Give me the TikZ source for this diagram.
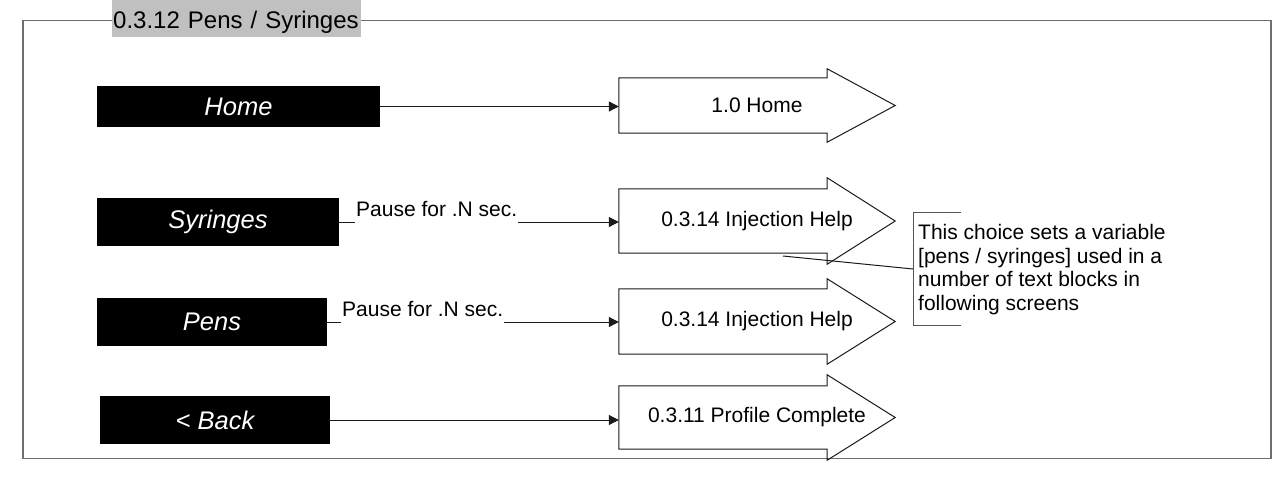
\documentclass[tikz,border=0pt]{standalone}
\usepackage{fontspec}
\setmainfont{Liberation Sans}
\usetikzlibrary{arrows.meta,calc}
\newcommand\fsz[1]{\fontsize{#1pt}{#1pt}\selectfont}
\definecolor{framegray}{HTML}{6E6E6E}
\definecolor{titlegray}{HTML}{C0C0C0}
\definecolor{lineblack}{HTML}{1A1A1A}
\definecolor{notegray}{HTML}{555555}
\newcommand\blockoutline[2]{%
  \draw[outline] (#1.south west) -- (#1.north west) -- ($(#1.north east)+(-68,0)$) -- ++(0,-#2)
    -- (#1.east) -- ($(#1.south east)+(-68,#2)$) -- ($(#1.south east)+(-68,0)$) -- cycle;}
\begin{document}
\begin{tikzpicture}[x=1pt,y=-1pt,
  btn/.style={fill=black, text=white, font=\fsz{25.5}\itshape, inner sep=0pt},
  blk/.style={inner sep=0pt, minimum width=276pt, font=\fsz{21}},
  outline/.style={draw=lineblack, line width=1pt, line join=miter},
  conn/.style={draw=lineblack, line width=1pt, -{Triangle[length=10pt,width=10pt]}},
  lbl/.style={fill=white, font=\fsz{21}, inner xsep=1pt, inner ysep=7pt, anchor=base west},
  bracket/.style={draw=notegray, line width=1pt},
  leader/.style={draw=lineblack, line width=1pt},
]
\useasboundingbox (0,0) rectangle (1281,477);
% frame
\draw[framegray, line width=1.5pt] (23,20.5) rectangle (1271,458.5);
\node[fill=titlegray, anchor=north west, inner xsep=1pt, inner ysep=0pt, text width=247pt,
      align=left, text height=28.3pt, text depth=8.7pt, font=\fsz{24}] (title) at (112,0) {0.3.12 Pens / Syringes};
% buttons
\node[btn, minimum width=283pt, minimum height=41pt] (bhome) at (238.5,106.5) {Home};
\node[btn, minimum width=242pt, minimum height=48pt] (bsyr) at (218,222) {Syringes};
\node[btn, minimum width=230pt, minimum height=48pt] (bpens) at (212,322) {Pens};
\node[btn, minimum width=230pt, minimum height=48pt] (bback) at (215,420) {< Back};
% block arrows
\node[blk, minimum height=55pt] (ahome) at (757,105.5) {1.0 Home};
\blockoutline{ahome}{9}
\node[blk, minimum height=64pt] (asyr) at (757,221) {0.3.14 Injection Help};
\blockoutline{asyr}{11}
\node[blk, minimum height=65pt] (apens) at (757,321.5) {0.3.14 Injection Help};
\blockoutline{apens}{10}
\node[blk, minimum height=63pt] (aback) at (757,417.5) {0.3.11 Profile Complete};
\blockoutline{aback}{11}
% connectors
\draw[conn] (bhome.east) -- (bhome.east -| ahome.west);
\draw[conn] (bsyr.east) -- (bsyr.east -| asyr.west);
\node[lbl] (psyr) at (355,216.5) {Pause for .N sec.};
\draw[conn] (bpens.east) -- (bpens.east -| apens.west);
\node[lbl] (ppens) at (341,316.7) {Pause for .N sec.};
\draw[conn] (bback.east) -- (bback.east -| aback.west);
% note
\node[anchor=north west, inner sep=0pt, align=left, font=\fontsize{21pt}{23.5pt}\selectfont] (note) at (918,224.5)
  {This choice sets a variable\\ {[}pens / syringes] used in a\\ number of text blocks in\\ following screens};
\coordinate (bt) at (961,212.5);
\coordinate (bb) at (961,325);
\coordinate (bmid) at (913,269);
\coordinate (lead) at (783,256);
\draw[bracket] (bt) -- (bt -| bmid) -- (bb -| bmid) -- (bb);
\draw[leader] (lead) -- (bmid);
\end{tikzpicture}
\end{document}
